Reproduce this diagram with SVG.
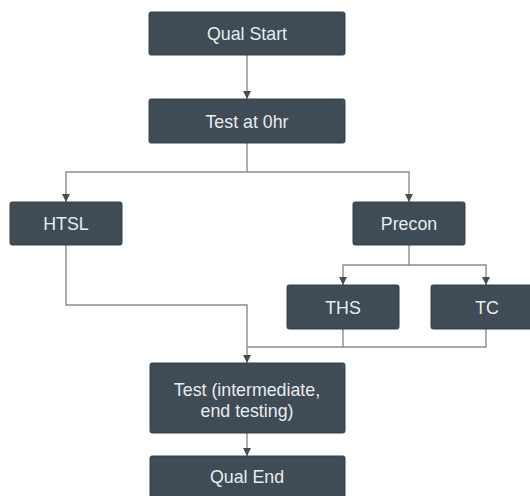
<svg xmlns="http://www.w3.org/2000/svg" width="530" height="496" viewBox="0 0 530 496">
<defs>
<style>
.box{fill:#3f4b55;stroke:#36414a;stroke-width:1}
.lbl{fill:#e9ecee;font-family:"Liberation Sans",Arial,sans-serif;font-size:17.8px;text-anchor:middle}
.conn{fill:none;stroke:#8c8c8c;stroke-width:1.4}
</style>
<marker id="ah" viewBox="0 0 10 10" refX="10" refY="5" markerWidth="8" markerHeight="8" markerUnits="userSpaceOnUse" orient="auto">
<path d="M0,0 L10,5 L0,10 z" fill="#474d53"/>
</marker>
</defs>
<rect width="530" height="496" fill="#ffffff"/>
<g id="connectors">
<path class="conn" d="M247,55 V99" marker-end="url(#ah)"/>
<path class="conn" d="M247,143 V172 H66 V202" marker-end="url(#ah)"/>
<path class="conn" d="M247,172 H409 V202" marker-end="url(#ah)"/>
<path class="conn" d="M409,245 V265 H343 V285" marker-end="url(#ah)"/>
<path class="conn" d="M409,265 H486 V285" marker-end="url(#ah)"/>
<path class="conn" d="M66,245 V305 H247 V363" marker-end="url(#ah)"/>
<path class="conn" d="M343,329 V347 H247"/>
<path class="conn" d="M486,329 V347 H343"/>
<path class="conn" d="M247,433 V456" marker-end="url(#ah)"/>
</g>
<g id="qual-start"><rect class="box" x="149" y="12" width="196" height="43" rx="2"/><text class="lbl" x="247" y="40">Qual Start</text></g>
<g id="test-0hr"><rect class="box" x="149" y="99" width="196" height="44" rx="2"/><text class="lbl" x="247" y="127.5">Test at 0hr</text></g>
<g id="htsl"><rect class="box" x="10" y="202" width="112" height="43" rx="2"/><text class="lbl" x="66" y="230">HTSL</text></g>
<g id="precon"><rect class="box" x="353" y="202" width="112" height="43" rx="2"/><text class="lbl" x="409" y="230">Precon</text></g>
<g id="ths"><rect class="box" x="287" y="285" width="112" height="44" rx="2"/><text class="lbl" x="343" y="313.5">THS</text></g>
<g id="tc"><rect class="box" x="431" y="285" width="112" height="44" rx="2"/><text class="lbl" x="487" y="313.5">TC</text></g>
<g id="test-inter"><rect class="box" x="150" y="363" width="195" height="70" rx="2"/><text class="lbl" x="247" y="396">Test (intermediate,</text><text class="lbl" x="247" y="416.5">end testing)</text></g>
<g id="qual-end"><rect class="box" x="150" y="456" width="195" height="52" rx="2"/><text class="lbl" x="247" y="482.5">Qual End</text></g>
</svg>
